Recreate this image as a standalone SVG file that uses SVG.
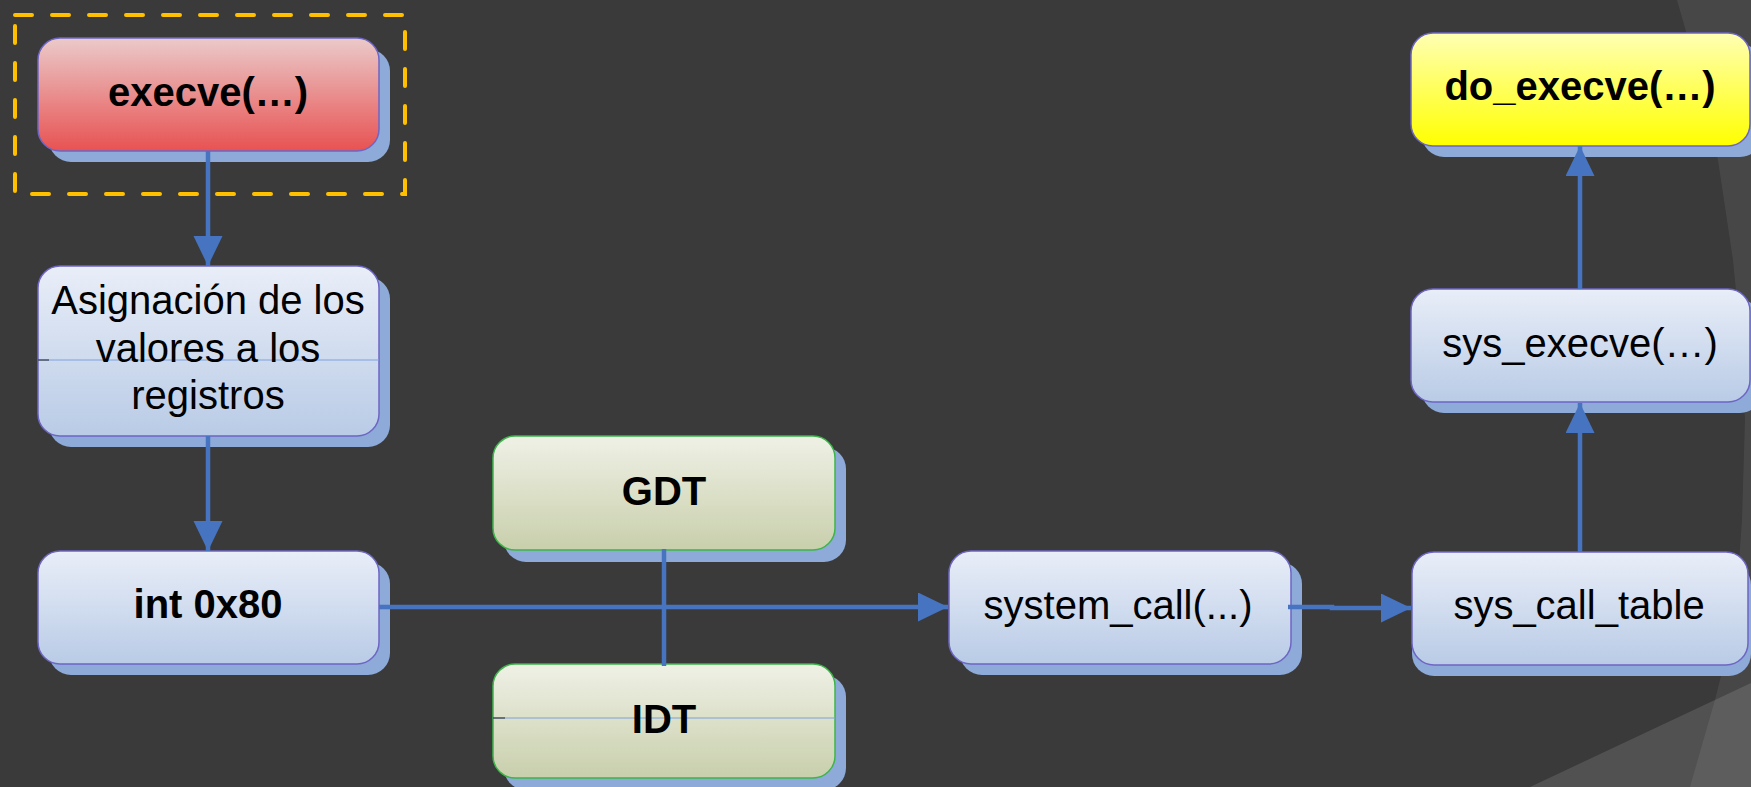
<svg xmlns="http://www.w3.org/2000/svg" width="1751" height="787" viewBox="0 0 1751 787">
<defs>
<linearGradient id="gBlue" x1="0" y1="0" x2="0" y2="1"><stop offset="0" stop-color="#E9EEF8"/><stop offset="1" stop-color="#B9CBE6"/></linearGradient>
<linearGradient id="gRed" x1="0" y1="0" x2="0" y2="1"><stop offset="0" stop-color="#EBCACA"/><stop offset="1" stop-color="#E85252"/></linearGradient>
<linearGradient id="gYellow" x1="0" y1="0" x2="0" y2="1"><stop offset="0" stop-color="#FFFFB4"/><stop offset="1" stop-color="#FFFF00"/></linearGradient>
<linearGradient id="gGreen" x1="0" y1="0" x2="0" y2="1"><stop offset="0" stop-color="#EFF1E6"/><stop offset="1" stop-color="#C8CFAB"/></linearGradient>
<marker id="arr" markerUnits="userSpaceOnUse" markerWidth="30" markerHeight="30" refX="30" refY="14.5" orient="auto"><path d="M0,0 L30,14.5 L0,29 Z" fill="#4674C1"/></marker>
</defs>
<style>
.shadow{fill:#8EAAD8}
.box{stroke:#6E66C4;stroke-width:1.5}
.green{stroke:#3DB54A;stroke-width:1.5}
.t{font-family:"Liberation Sans",Arial,sans-serif;font-size:40px;text-anchor:middle;fill:#000}
.b{font-weight:bold}
.conn{stroke:#4674C1;stroke-width:4.5;fill:none}
.thin{stroke:#7FA0DC;stroke-width:1}
</style>
<rect width="1751" height="787" fill="#3A3A3A"/>
<path d="M1677,0 L1751,0 L1751,787 L1690,787 L1715,700 L1735,620 L1742,520 L1745,420 L1742,350 L1733,260 L1718,160 L1700,80 Z" fill="#FFFFFF" fill-opacity="0.07"/>
<path d="M1530,787 L1751,683 L1751,787 Z" fill="#FFFFFF" fill-opacity="0.12"/>
<rect x="15" y="15" width="390" height="179" fill="none" stroke="#FFC000" stroke-width="4" stroke-dasharray="17 20" stroke-linecap="round"/>
<g id="execve">
<rect class="shadow" x="49" y="49" width="341" height="113" rx="22"/>
<rect class="box" x="38" y="38" width="341" height="113" rx="22" fill="url(#gRed)"/>
<text class="t b" x="208" y="106">execve(…)</text>
</g>
<g id="asignacion">
<rect class="shadow" x="49" y="277" width="341" height="170" rx="22"/>
<rect class="box" x="38" y="266" width="341" height="170" rx="22" fill="url(#gBlue)"/>
<line class="thin" x1="38" y1="360" x2="379" y2="360"/>
<line x1="38" y1="360" x2="49" y2="360" stroke="#222" stroke-width="1"/>
<text class="t" x="208" y="314">Asignación de los</text>
<text class="t" x="208" y="362">valores a los</text>
<text class="t" x="208" y="409">registros</text>
</g>
<g id="int80">
<rect class="shadow" x="49" y="562" width="341" height="113" rx="22"/>
<rect class="box" x="38" y="551" width="341" height="113" rx="22" fill="url(#gBlue)"/>
<text class="t b" x="208" y="618">int 0x80</text>
</g>
<g id="gdt">
<rect class="shadow" x="504" y="447" width="342" height="115" rx="22"/>
<rect class="green" x="493" y="436" width="342" height="114" rx="22" fill="url(#gGreen)"/>
<text class="t b" x="664" y="505">GDT</text>
</g>
<g id="idt">
<rect class="shadow" x="504" y="675" width="342" height="115" rx="22"/>
<rect class="green" x="493" y="664" width="342" height="114" rx="22" fill="url(#gGreen)"/>
<line class="thin" x1="493" y1="718" x2="835" y2="718"/>
<line x1="493" y1="718" x2="505" y2="718" stroke="#222" stroke-width="1"/>
<text class="t b" x="664" y="733">IDT</text>
</g>
<g id="system_call">
<rect class="shadow" x="960" y="562" width="342" height="113" rx="22"/>
<rect class="box" x="949" y="551" width="342" height="113" rx="22" fill="url(#gBlue)"/>
<text class="t" x="1118" y="619">system_call(...)</text>
</g>
<g id="sys_call_table">
<rect class="shadow" x="1412" y="563" width="339" height="113" rx="22"/>
<rect class="box" x="1412" y="552" width="336" height="113" rx="22" fill="url(#gBlue)"/>
<text class="t" x="1579" y="619">sys_call_table</text>
</g>
<g id="sys_execve">
<rect class="shadow" x="1422" y="300" width="340" height="113" rx="22"/>
<rect class="box" x="1411" y="289" width="339" height="113" rx="22" fill="url(#gBlue)"/>
<text class="t" x="1580" y="357">sys_execve(…)</text>
</g>
<g id="do_execve">
<rect class="shadow" x="1422" y="44" width="340" height="113" rx="22"/>
<rect class="box" x="1411" y="33" width="339" height="113" rx="22" fill="url(#gYellow)"/>
<text class="t b" x="1580" y="100">do_execve(…)</text>
</g>
<g id="connectors">
<path class="conn" d="M208,151 L208,266" marker-end="url(#arr)"/>
<path class="conn" d="M208,436 L208,551" marker-end="url(#arr)"/>
<path class="conn" d="M379,607 L948,607" marker-end="url(#arr)"/>
<path class="conn" d="M664,549 L664,666"/>
<path class="conn" d="M1288,607 L1332,607 L1332,608 L1411,608" marker-end="url(#arr)"/>
<path class="conn" d="M1580,552 L1580,403" marker-end="url(#arr)"/>
<path class="conn" d="M1580,289 L1580,146" marker-end="url(#arr)"/>
</g>
</svg>
